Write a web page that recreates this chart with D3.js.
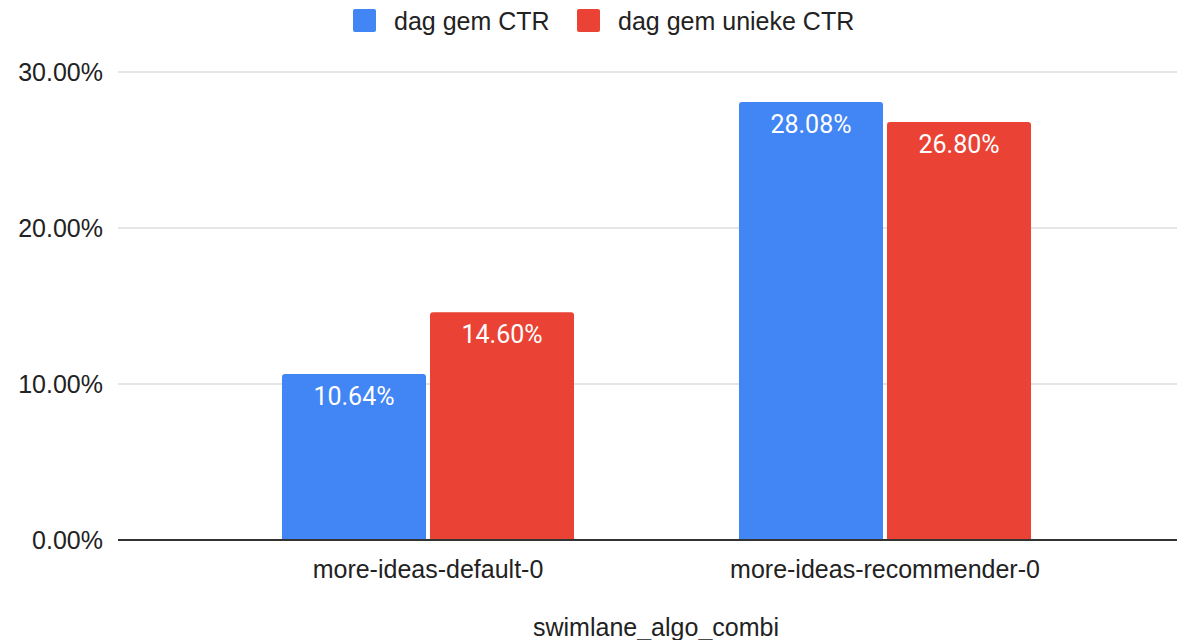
<!DOCTYPE html>
<html lang="nl">
<head>
  <meta charset="UTF-8">
  <title>swimlane_algo_combi</title>
  <script src="https://d3js.org/d3.v7.min.js"></script>
  <style>
    body { margin: 0; background: #fff; }
    text { font-family: "Liberation Sans", Arial, sans-serif; }
  </style>
</head>
<body>
<svg width="1177" height="640"></svg>
<script>
  // data
  var categories = ["more-ideas-default-0", "more-ideas-recommender-0"];
  var seriesNames = ["dag gem CTR", "dag gem unieke CTR"];
  var ctr = [0.1064, 0.2808];
  var uniekeCtr = [0.1460, 0.2680];
  var yTicks = [0, 0.1, 0.2, 0.3];
  var axisTitle = "swimlane_algo_combi";

  var colors = ["#4285f4", "#ea4335"];
  var fontSize = 25;

  var svg = d3.select("svg");
  var plotLeft = 118, plotRight = 1177, plotTop = 72, plotBottom = 540;

  var rows = categories.map(function (c, i) {
    return { cat: c, values: [ctr[i], uniekeCtr[i]] };
  });

  var y = d3.scaleLinear().domain([0, 0.3]).range([plotBottom, plotTop]);

  var x0 = d3.scaleBand()
    .domain(categories)
    .range([199.5, 1113.5])
    .paddingInner(0.361)
    .paddingOuter(0.1805);

  var x1 = d3.scaleBand()
    .domain(d3.range(seriesNames.length))
    .range([0, x0.bandwidth()])
    .paddingInner(0.027);

  var fmt = d3.format(".2%");

  // gridlines
  svg.append("g").selectAll("line")
    .data(yTicks.filter(function (d) { return d > 0; }))
    .enter().append("line")
    .attr("x1", plotLeft).attr("x2", plotRight)
    .attr("y1", function (d) { return y(d); })
    .attr("y2", function (d) { return y(d); })
    .attr("stroke", "#cccccc")
    .attr("stroke-width", 1.2);

  // y labels
  svg.append("g").selectAll("text")
    .data(yTicks)
    .enter().append("text")
    .attr("x", 103)
    .attr("y", function (d) { return y(d) + 9; })
    .attr("text-anchor", "end")
    .attr("font-size", fontSize)
    .attr("fill", "#222")
    .text(fmt);

  // bars with rounded top corners
  function barPath(x, yTop, w, h, r) {
    r = Math.min(r, h);
    return "M" + x + "," + (yTop + h) +
      "V" + (yTop + r) +
      "Q" + x + "," + yTop + " " + (x + r) + "," + yTop +
      "H" + (x + w - r) +
      "Q" + (x + w) + "," + yTop + " " + (x + w) + "," + (yTop + r) +
      "V" + (yTop + h) + "Z";
  }

  var groups = svg.append("g").selectAll("g")
    .data(rows)
    .enter().append("g")
    .attr("transform", function (d) { return "translate(" + x0(d.cat) + ",0)"; });

  groups.selectAll("path")
    .data(function (d) { return d.values; })
    .enter().append("path")
    .attr("d", function (v, i) {
      return barPath(x1(i), y(v), x1.bandwidth(), plotBottom - y(v), 3);
    })
    .attr("fill", function (v, i) { return colors[i]; });

  groups.selectAll("text")
    .data(function (d) { return d.values; })
    .enter().append("text")
    .attr("x", function (v, i) { return x1(i) + x1.bandwidth() / 2; })
    .attr("y", function (v) { return y(v) + 31; })
    .attr("text-anchor", "middle")
    .attr("font-size", fontSize)
    .style("font-family", "Roboto, sans-serif")
    .attr("fill", "#fff")
    .text(fmt);

  // baseline
  svg.append("line")
    .attr("x1", plotLeft).attr("x2", plotRight)
    .attr("y1", plotBottom).attr("y2", plotBottom)
    .attr("stroke", "#333")
    .attr("stroke-width", 2);

  // category labels
  svg.append("g").selectAll("text")
    .data(categories)
    .enter().append("text")
    .attr("x", function (d) { return x0(d) + x0.bandwidth() / 2; })
    .attr("y", 578)
    .attr("text-anchor", "middle")
    .attr("font-size", fontSize)
    .attr("fill", "#222")
    .text(function (d) { return d; });

  // axis title
  svg.append("text")
    .attr("x", 656).attr("y", 636)
    .attr("text-anchor", "middle")
    .attr("font-size", fontSize)
    .attr("fill", "#222")
    .text(axisTitle);

  // legend
  var legendX = [353, 577];
  var legend = svg.append("g").selectAll("g")
    .data(seriesNames)
    .enter().append("g")
    .attr("transform", function (d, i) { return "translate(" + legendX[i] + ",9)"; });

  legend.append("rect")
    .attr("width", 23).attr("height", 23)
    .attr("rx", 2)
    .attr("fill", function (d, i) { return colors[i]; });

  legend.append("text")
    .attr("x", 41).attr("y", 21)
    .attr("font-size", fontSize)
    .attr("fill", "#222")
    .text(function (d) { return d; });
</script>
</body>
</html>
